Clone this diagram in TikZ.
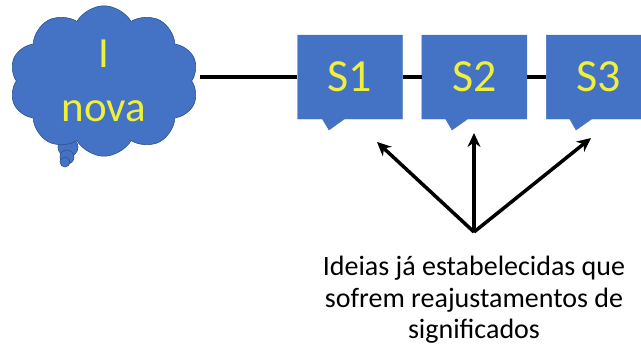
\documentclass[tikz,border=0pt]{standalone}
\usepackage{fontspec}
\setmainfont{Carlito}
\usepackage{tikz}
\usetikzlibrary{shapes,shapes.symbols,shapes.callouts,arrows.meta,positioning,calc}

\definecolor{officeblue}{RGB}{68,114,196}
\definecolor{darkblue}{RGB}{47,82,143}
\definecolor{labelyellow}{RGB}{238,240,60}

\begin{document}
\begin{tikzpicture}[x=1pt, y=1pt,
        idea/.style={cloud, cloud puffs=10, cloud puff arc=120, aspect=1.4, fill=officeblue, draw=darkblue, line width=0.6pt,
            minimum width=180pt, minimum height=128pt, text=labelyellow, align=center, font=\fontsize{43}{54}\selectfont},
        bubble/.style={circle, fill=officeblue, draw=darkblue, line width=0.6pt, inner sep=0pt},
        subsunsor/.style={rectangle callout, fill=officeblue, draw=officeblue, minimum width=105pt, minimum height=84pt,
            callout pointer width=22pt, text=labelyellow, font=\fontsize{46}{54}\selectfont},
        link/.style={line width=4pt},
        >={Stealth[length=14pt, width=13pt]}
    ]
        \useasboundingbox (0,0) rectangle (641,-349);

        % Cloud (new idea)
        \node [bubble, minimum size=20pt] (b1) at (68,-147) {};
        \node [bubble, minimum size=14pt] (b2) at (67,-157) {};
        \node [bubble, minimum size=10pt] (b3) at (65,-162) {};
        \node [idea] (nova) at (104,-81) {I\\nova};

        % Subsumers
        \node [subsunsor, callout absolute pointer={(329,-130)}] (s1) at (350,-77) {S1};
        \node [subsunsor, callout absolute pointer={(452,-130)}, right=19pt of s1] (s2) {S2};
        \node [subsunsor, callout absolute pointer={(576,-130)}, right=19pt of s2] (s3) {S3};

        % Caption
        \node [align=center, font=\fontsize{28}{31.5}\selectfont] (ideias) at (474,-300)
            {Ideias já estabelecidas que\\sofrem reajustamentos de\\significados};
        \coordinate (src) at (474,-232);
        \coordinate (t1) at (377,-142);
        \coordinate (t2) at (474,-133);
        \coordinate (t3) at (591,-138);

        \draw[link, shorten <=8pt] (nova.east |- s1.west) -- (s1.west);
        \draw[link] (s1.east) -- (s2.west);
        \draw[link] (s2.east) -- (s3.west);

        \draw[->, line width=3.5pt] (src) -- (t1);
        \draw[->, line width=3.5pt] (src) -- (t2);
        \draw[->, line width=3.5pt] (src) -- (t3);

    \end{tikzpicture}
\end{document}
